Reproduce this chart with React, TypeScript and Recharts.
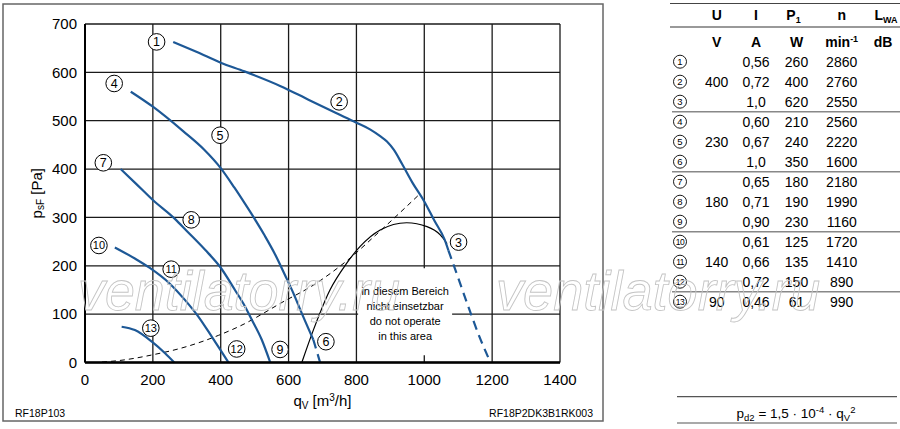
import React from "react";
import {
  LineChart,
  Line,
  XAxis,
  YAxis,
  CartesianGrid,
  ReferenceDot,
  ReferenceArea,
  Label,
} from "recharts";

const FONT = '"Liberation Sans", Arial, Helvetica, sans-serif';
const BLUE = "#1d5896";

const xTicks = [0, 200, 400, 600, 800, 1000, 1200, 1400];
const yTicks = [0, 100, 200, 300, 400, 500, 600, 700];

// fan curves [qv m3/h, psF Pa]
const curve1to3 = [
  [260, 663], [330, 642], [400, 620], [470, 602], [575, 572], [660, 543],
  [740, 516], [800, 496], [840, 482], [870, 468], [890, 457], [910, 440],
  [935, 410], [965, 372], [1000, 333], [1030, 293], [1060, 254], [1071, 232],
];
const curve3Dashed = [[1071, 232], [1100, 175], [1130, 115], [1160, 58], [1195, 0]];
const curve4to6 = [
  [135, 560], [200, 529], [290, 478], [350, 441], [400, 402], [440, 362],
  [470, 330], [500, 297], [530, 262], [560, 224], [590, 180], [615, 142],
  [640, 100], [673, 47],
];
const curve6Dashed = [[673, 47], [693, 0]];
const curve7to9 = [
  [105, 400], [150, 370], [200, 336], [265, 297], [300, 272], [354, 233],
  [398, 198], [442, 150], [470, 118], [492, 88], [521, 47], [546, 0],
];
const curve10to12 = [
  [88, 238], [147, 215], [190, 196], [250, 163], [295, 129], [334, 95],
  [374, 53], [400, 25], [423, 0],
];
const curve13 = [[108, 74], [147, 67], [197, 43], [236, 19], [263, 0]];

// limit of operating range and system curve
const limitCurve = [
  [639, 0], [673, 67], [722, 150], [771, 205], [811, 240], [870, 274],
  [948, 289], [1008, 281], [1047, 264], [1067, 246],
];
const systemCurve = [
  [50, 1], [100, 4], [200, 16], [300, 33], [393, 56], [470, 80], [541, 108],
  [575, 122], [673, 160], [771, 210], [870, 272], [983, 346],
];

// circled point labels [number, qv, psF]
const pointLabels = [
  [1, 211, 663], [2, 749, 539], [3, 1101, 249], [4, 86, 577], [5, 398, 470],
  [6, 710, 43], [7, 54, 413], [8, 313, 295], [9, 575, 27], [10, 41, 242],
  [11, 254, 193], [12, 447, 28], [13, 194, 71],
];

const noteLines = ["in diesem Bereich", "nicht einsetzbar", "do not operate", "in this area"];

// table
const rowU = ["", "400", "", "", "230", "", "", "180", "", "", "140", "", "90"];
const rowI = ["0,56", "0,72", "1,0", "0,60", "0,67", "1,0", "0,65", "0,71", "0,90", "0,61", "0,66", "0,72", "0,46"];
const rowP1 = ["260", "400", "620", "210", "240", "350", "180", "190", "230", "125", "135", "150", "61"];
const rowN = ["2860", "2760", "2550", "2560", "2220", "1600", "2180", "1990", "1160", "1720", "1410", "890", "990"];

const pts = (a: number[][]) => a.map(([q, p]) => ({ q, p }));

const NoteText = (props: any) => {
  const vb = props.viewBox;
  if (!vb) return null;
  const cx = vb.x + vb.width / 2;
  return (
    <text fontFamily={FONT} fontSize={11} fill="#000" textAnchor="middle">
      {noteLines.map((t, i) => (
        <tspan key={t} x={cx} y={vb.y + 27 + i * 15}>
          {t}
        </tspan>
      ))}
    </text>
  );
};

const XTitle = (props: any) => {
  const vb = props.viewBox;
  if (!vb) return null;
  return (
    <text x={vb.x + vb.width / 2} y={vb.y + 43} textAnchor="middle" fontFamily={FONT} fontSize={15} fill="#000">
      q<tspan fontSize={10} dy={3}>V</tspan>
      <tspan dy={-3}> [m</tspan>
      <tspan fontSize={10} dy={-5}>3</tspan>
      <tspan dy={5}>/h]</tspan>
    </text>
  );
};

const YTitle = (props: any) => {
  const vb = props.viewBox;
  if (!vb) return null;
  const x = 38;
  const y = vb.y + vb.height / 2;
  return (
    <text x={x} y={y} transform={`rotate(-90 ${x} ${y})`} textAnchor="middle" dominantBaseline="middle" fontFamily={FONT} fontSize={15} fill="#000">
      p<tspan fontSize={10} dy={3}>sF</tspan>
      <tspan dy={-3}> [Pa]</tspan>
    </text>
  );
};

const series = [
  { d: curve1to3, dash: undefined },
  { d: curve3Dashed, dash: "9 6" },
  { d: curve4to6, dash: undefined },
  { d: curve6Dashed, dash: "9 6" },
  { d: curve7to9, dash: undefined },
  { d: curve10to12, dash: undefined },
  { d: curve13, dash: undefined },
];

const Table = () => {
  const colU = 716.7;
  const colI = 756;
  const colP = 796.5;
  const colN = 841.7;
  const colL = 886;
  const rowY = (i: number) => 61.7 + i * 20;
  return (
    <g fontFamily={FONT} fill="#000">
      <line x1={670} x2={900} y1={3.5} y2={3.5} stroke="#444" strokeWidth={1.2} />
      <line x1={670} x2={900} y1={27} y2={27} stroke="#777" strokeWidth={1.5} />
      <g fontWeight="bold" fontSize={14} textAnchor="middle">
        <text x={colU} y={20}>U</text>
        <text x={colI} y={20}>I</text>
        <text x={colP - 3} y={20}>
          P<tspan fontSize={9} dy={3}>1</tspan>
        </text>
        <text x={colN} y={20}>n</text>
        <text x={colL} y={20}>
          L<tspan fontSize={9} dy={3}>WA</tspan>
        </text>
        <text x={colU} y={46.5}>V</text>
        <text x={colI} y={46.5}>A</text>
        <text x={colP} y={46.5}>W</text>
        <text x={colN} y={46.5}>
          min<tspan fontSize={9} dy={-5}>-1</tspan>
        </text>
        <text x={883} y={46.5}>dB</text>
      </g>
      {rowI.map((v, i) => (
        <g key={i} fontSize={14} textAnchor="middle">
          <circle cx={680} cy={rowY(i)} r={6.5} fill="#fff" stroke="#000" strokeWidth={0.9} />
          <text x={680} y={rowY(i) + 3.2} fontSize={i >= 9 ? 8.5 : 9.5} letterSpacing={i >= 9 ? -0.6 : 0}>
            {i + 1}
          </text>
          <text x={colU} y={rowY(i) + 5}>{rowU[i]}</text>
          <text x={colI} y={rowY(i) + 5}>{v}</text>
          <text x={colP} y={rowY(i) + 5}>{rowP1[i]}</text>
          <text x={colN} y={rowY(i) + 5}>{rowN[i]}</text>
        </g>
      ))}
      {[2, 5, 8, 11].map((i) => (
        <line key={i} x1={672} x2={900} y1={rowY(i) + 10} y2={rowY(i) + 10} stroke="#888" strokeWidth={1.5} />
      ))}
      <line x1={677} x2={897} y1={396.7} y2={396.7} stroke="#555" strokeWidth={1.2} />
      <line x1={677} x2={897} y1={423} y2={423} stroke="#555" strokeWidth={1.2} />
      <text x={796} y={418} textAnchor="middle" fontSize={13.5}>
        p<tspan fontSize={9.5} dy={3}>d2</tspan>
        <tspan dy={-3}> = 1,5 · 10</tspan>
        <tspan fontSize={9.5} dy={-5}>-4</tspan>
        <tspan dy={5}> · q</tspan>
        <tspan fontSize={9.5} dy={3}>V</tspan>
        <tspan fontSize={9.5} dy={-8}>2</tspan>
      </text>
    </g>
  );
};

export default function App() {
  return (
    <div style={{ position: "relative", width: 900, height: 429, background: "#fff" }}>
      <style>{"body{margin:0}"}</style>
      <LineChart width={900} height={429} margin={{ top: 24, right: 340, bottom: 0, left: 0 }}>
        <CartesianGrid stroke="#1a1a1a" strokeWidth={1.3} />
        <XAxis
          dataKey="q"
          type="number"
          domain={[0, 1400]}
          ticks={xTicks}
          allowDataOverflow
          height={66.5}
          tickSize={0}
          tickMargin={12}
          tick={{ fontSize: 15, fill: "#000", fontFamily: FONT }}
          axisLine={{ stroke: "#000", strokeWidth: 2.5 }}
        >
          <Label content={<XTitle />} />
        </XAxis>
        <YAxis
          type="number"
          domain={[0, 700]}
          ticks={yTicks}
          width={85}
          tickSize={0}
          tickMargin={8}
          tick={{ fontSize: 15, fill: "#000", fontFamily: FONT }}
          axisLine={{ stroke: "#000", strokeWidth: 2 }}
        >
          <Label content={<YTitle />} />
        </YAxis>
        <ReferenceArea x1={805} x2={1082} y1={15} y2={195} fill="#fff" fillOpacity={1} stroke="none" label={<NoteText />} />
        <Line data={pts(systemCurve)} dataKey="p" type="monotone" stroke="#000" strokeWidth={1} strokeDasharray="5 4" dot={false} isAnimationActive={false} />
        <Line data={pts(limitCurve)} dataKey="p" type="monotone" stroke="#000" strokeWidth={1.2} dot={false} isAnimationActive={false} />
        {series.map((s, i) => (
          <Line
            key={i}
            data={pts(s.d)}
            dataKey="p"
            type="monotone"
            stroke={BLUE}
            strokeWidth={2.2}
            strokeDasharray={s.dash}
            dot={false}
            isAnimationActive={false}
          />
        ))}
        {pointLabels.map(([n, q, p]) => (
          <ReferenceDot
            key={n}
            x={q}
            y={p}
            r={8.3}
            fill="#fff"
            stroke="#000"
            strokeWidth={1}
            label={{ value: String(n), position: "center", fontSize: n >= 10 ? 11 : 12.5, fill: "#000", fontFamily: FONT }}
          />
        ))}
      </LineChart>
      <svg width={900} height={429} style={{ position: "absolute", left: 0, top: 0, pointerEvents: "none" }}>
        <rect x={3} y={4} width={600} height={417} fill="none" stroke="#666" strokeWidth={1.5} />
        <text x={15} y={417} fontSize={10.5} fontFamily={FONT}>RF18P103</text>
        <text x={593} y={417} fontSize={10.5} fontFamily={FONT} textAnchor="end">RF18P2DK3B1RK003</text>
        <Table />
        <g fontFamily={FONT} fontStyle="italic" fontSize={56} fill="none" stroke="#c4c4c4" strokeWidth={0.9}>
          <text x={78} y={310} textLength={322} lengthAdjust="spacingAndGlyphs">ventilatorry.ru</text>
          <text x={496} y={310} textLength={324} lengthAdjust="spacingAndGlyphs">ventilatorry.ru</text>
        </g>
      </svg>
    </div>
  );
}
